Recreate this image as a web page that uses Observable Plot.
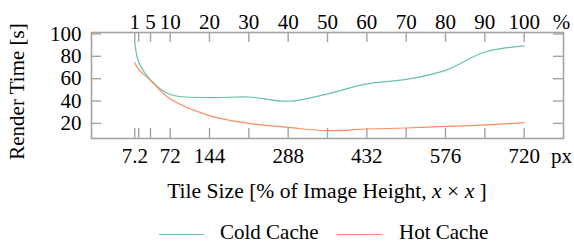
<!DOCTYPE html>
<html><head><meta charset="utf-8">
<script src="https://cdn.jsdelivr.net/npm/d3@7"></script>
<script src="https://cdn.jsdelivr.net/npm/@observablehq/plot@0.6"></script>
<style>
body{margin:0;background:#fff;font-family:"Liberation Serif","Times New Roman",serif;color:#000;}
#wrap{position:relative;width:574px;height:243px;}
#wrap svg{display:block;}
#wrap svg text{font-family:"Liberation Serif","Times New Roman",serif !important;font-size:21px !important;font-variant:normal !important;}
.abs{position:absolute;white-space:nowrap;font-family:"Liberation Serif","Times New Roman",serif;font-size:21px;line-height:20px;}
.sw{position:absolute;height:0;border-top-width:1.3px;border-top-style:solid;}
</style></head><body><div id="wrap"></div>
<script>
// Tile size in pixels (image height 720 px → 1 % = 7.2 px)
const tileSizePx = [7.2, 14.4, 36, 72, 144, 216, 288, 360, 432, 504, 576, 648, 720];
const coldCache = [92.9, 74.9, 59.0, 45.8, 43.1, 43.6, 39.8, 46.4, 55.4, 59.3, 67.4, 83.9, 89.3];
const hotCache  = [74.3, 68.3, 58.4, 42.0, 27.0, 20.0, 16.5, 13.5, 15.0, 15.9, 17.4, 18.6, 20.7];
const seriesNames = ["Cold Cache", "Hot Cache"];
const seriesColors = ["#66c2a5", "#fc8d62"];
const bottomTickLabels = [7.2, 72, 144, 288, 432, 576, 720];
const topPercentLabels = [1, 5, 10, 20, 30, 40, 50, 60, 70, 80, 90, 100];
const yTickValues = [20, 40, 60, 80, 100];
const pxPerPercent = 7.2;

const rows = [];
tileSizePx.forEach((x, i) => {
  rows.push({x, y: coldCache[i], series: seriesNames[0]});
  rows.push({x, y: hotCache[i], series: seriesNames[1]});
});

const W = 574, H = 172, mL = 91, mR = 11, mT = 32, mB = 34;
const plotW = W - mL - mR, plotH = H - mT - mB, tickLen = 10;
const grey = "#a3a3a3";
const font = {fontFamily: '"Liberation Serif", serif', fontSize: 21};

const chart = Plot.plot({
  width: W, height: H,
  marginLeft: mL, marginRight: mR, marginTop: mT, marginBottom: mB,
  style: {fontFamily: '"Liberation Serif", serif', fontSize: "21px", color: "#000", background: "#fff", overflow: "visible"},
  x: {domain: [-72, 792]},
  y: {domain: [6.5, 101.3]},
  color: {domain: seriesNames, range: seriesColors},
  marks: [
    Plot.tickX(tileSizePx, {stroke: grey, strokeWidth: 1.4, insetTop: plotH - tickLen}),
    Plot.tickX(tileSizePx, {stroke: grey, strokeWidth: 1.4, insetBottom: plotH - tickLen}),
    Plot.tickY(yTickValues, {stroke: grey, strokeWidth: 1.4, insetRight: plotW - tickLen}),
    Plot.tickY(yTickValues, {stroke: grey, strokeWidth: 1.4, insetLeft: plotW - tickLen}),
    Plot.frame({stroke: grey, strokeWidth: 1.6}),
    Plot.line(rows, {x: "x", y: "y", z: "series", stroke: "series", curve: "catmull-rom", strokeWidth: 1.2}),
    Plot.axisX(bottomTickLabels, {...font, anchor: "bottom", tickSize: 0, tickPadding: 10, tickFormat: d => String(d), label: null}),
    Plot.axisX(topPercentLabels.map(p => p * pxPerPercent), {...font, anchor: "top", tickSize: 0, tickPadding: 4, tickFormat: d => String(Math.round(d / pxPerPercent)), label: null}),
    Plot.axisY(yTickValues, {...font, anchor: "left", tickSize: 0, tickPadding: 10, label: null}),
    Plot.text(["px"], {...font, frameAnchor: "bottom-right", textAnchor: "middle", lineAnchor: "top", dx: -2, dy: 10}),
    Plot.text(["%"], {...font, frameAnchor: "top-right", textAnchor: "middle", lineAnchor: "bottom", dx: -2, dy: -4}),
    Plot.text(["Render Time [s]"], {...font, frameAnchor: "left", textAnchor: "middle", lineAnchor: "middle", rotate: -90, dx: -74, dy: 6})
  ]
});

const wrap = document.getElementById("wrap");
wrap.appendChild(chart);

const xl = document.createElement("div");
xl.className = "abs";
xl.style.left = mL + "px"; xl.style.width = plotW + "px"; xl.style.textAlign = "center";
xl.style.top = "181px"; xl.style.fontSize = "21.6px";
xl.innerHTML = "Tile Size [% of Image Height, <i>x</i> × <i>x</i> ]";
wrap.appendChild(xl);

// legend
const legendPos = [{line: 159, text: 220}, {line: 337, text: 399}];
seriesNames.forEach((name, i) => {
  const sw = document.createElement("div");
  sw.className = "sw";
  sw.style.left = legendPos[i].line + "px";
  sw.style.width = "45px";
  sw.style.top = "234px";
  sw.style.borderTopColor = seriesColors[i];
  wrap.appendChild(sw);
  const t = document.createElement("div");
  t.className = "abs";
  t.style.left = legendPos[i].text + "px";
  t.style.top = "222px";
  t.textContent = name;
  wrap.appendChild(t);
});
</script>
</body></html>
